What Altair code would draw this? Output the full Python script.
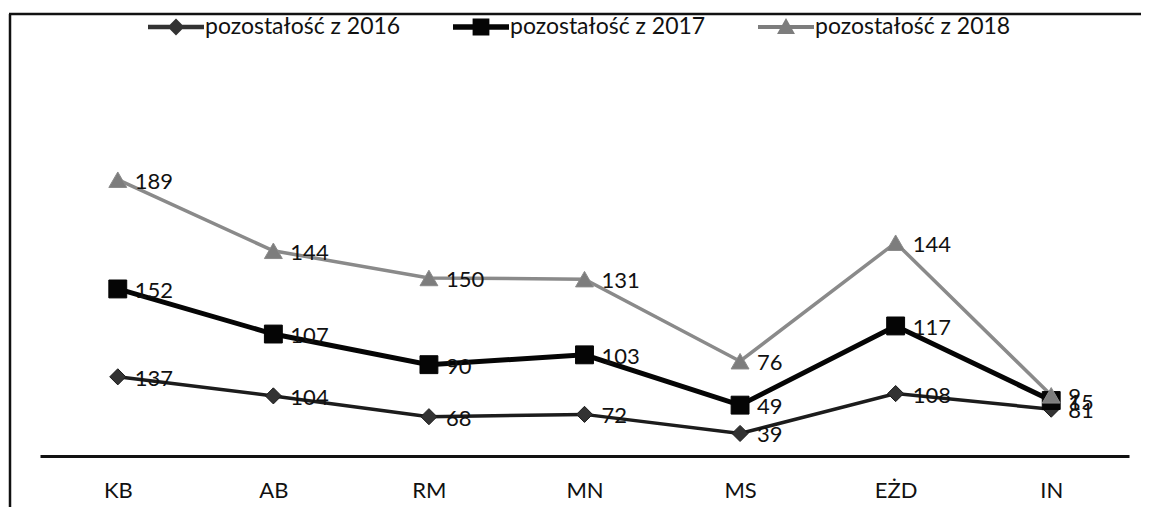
import altair as alt
import pandas as pd

cats = ["KB", "AB", "RM", "MN", "MS", "EŻD", "IN"]
series = ["pozostałość z 2016", "pozostałość z 2017", "pozostałość z 2018"]
v2016 = [137, 104, 68, 72, 39, 108, 81]
v2017 = [152, 107, 90, 103, 49, 117, 15]
v2018 = [189, 144, 150, 131, 76, 144, 9]

line_colors = ["#1c1c1c", "#050505", "#8a8a8a"]
marker_fill = ["#333333", "#050505", "#7d7d7d"]
line_widths = [3.5, 5, 3.5]
shapes = ["diamond", "square", "triangle-up"]
sizes = [260, 320, 320]
legend_paths = [
    "M-1,-0.08H1V0.08H-1Z M0,-0.3L0.3,0L0,0.3L-0.3,0Z",
    "M-1,-0.1H1V0.1H-1Z M-0.3,-0.3H0.3V0.3H-0.3Z",
    "M-1,-0.07H1V0.07H-1Z M0,-0.32L0.32,0.25H-0.32Z",
]

rows = []
for si, (s, vals) in enumerate(zip(series, [v2016, v2017, v2018])):
    for ci, (c, v) in enumerate(zip(cats, vals)):
        rows.append({"cat": c, "series": s, "order": si, "value": v})
df = pd.DataFrame(rows)

FONT = "Lato"
W, H = 1089, 289

x_enc = alt.X(
    "cat:N",
    sort=cats,
    scale=alt.Scale(type="point", padding=0.5),
    axis=alt.Axis(
        title=None, labelAngle=0, ticks=False, domainColor="#111111",
        domainWidth=3, labelFontSize=22, labelFont=FONT, labelColor="#111111",
        labelPadding=24,
    ),
)
y_enc = alt.Y("y1:Q", scale=alt.Scale(domain=[0, 500], nice=False, zero=True), axis=None)

base = alt.Chart(df).transform_stack(
    stack="value", groupby=["cat"], as_=["y0", "y1"], sort=[alt.SortField("order")]
)

layers = []
for i, s in enumerate(series):
    sub = base.transform_filter(alt.datum.series == s)
    layers.append(
        sub.mark_line(color=line_colors[i], strokeWidth=line_widths[i]).encode(x=x_enc, y=y_enc)
    )
for i, s in enumerate(series):
    sub = base.transform_filter(alt.datum.series == s)
    layers.append(
        sub.mark_point(
            shape=shapes[i], filled=True, size=sizes[i], fill=marker_fill[i],
            stroke=line_colors[i], strokeWidth=1, opacity=1,
        ).encode(x=x_enc, y=y_enc)
    )

labels = base.mark_text(
    align="left", baseline="middle", dx=17, dy=2, fontSize=22, font=FONT, color="#111111"
).encode(x=x_enc, y=y_enc, text="value:Q")
layers.append(labels)

leg = dict(
    title=None, orient="none", direction="horizontal",
    legendX=108, legendY=-168, symbolSize=3136, symbolStrokeWidth=0,
    labelFont=FONT, labelFontSize=23, labelColor="#111111", labelLimit=0,
    labelOffset=1, columnPadding=52, symbolOpacity=1,
)
legend_layer = (
    alt.Chart(pd.DataFrame({"series": series}))
    .transform_filter("false")
    .mark_point(filled=True, opacity=1)
    .encode(
        shape=alt.Shape(
            "series:N",
            scale=alt.Scale(domain=series, range=legend_paths),
            legend=alt.Legend(**leg),
        ),
        color=alt.Color(
            "series:N",
            scale=alt.Scale(domain=series, range=marker_fill),
            legend=alt.Legend(**leg),
        ),
    )
)
layers.append(legend_layer)

frame = alt.Chart(alt.Data(values=[{"k": 1}]))
left_border = frame.mark_rule(color="#111111", strokeWidth=2.5).encode(
    x=alt.value(-30), y=alt.value(-153), y2=alt.value(400)
)
top_border = frame.mark_rule(color="#111111", strokeWidth=2.5).encode(
    x=alt.value(-31), x2=alt.value(1200), y=alt.value(-153)
)
layers += [left_border, top_border]

chart = (
    alt.layer(*layers)
    .resolve_scale(color="independent", shape="independent")
    .properties(
        width=W, height=H,
        padding={"left": 32, "top": 159, "right": 12, "bottom": 51},
        autosize=alt.AutoSizeParams(type="none"),
        background="white",
    )
    .configure_view(stroke=None)
)

chart.save("out.html", embed_options={"renderer": "svg", "actions": False})
